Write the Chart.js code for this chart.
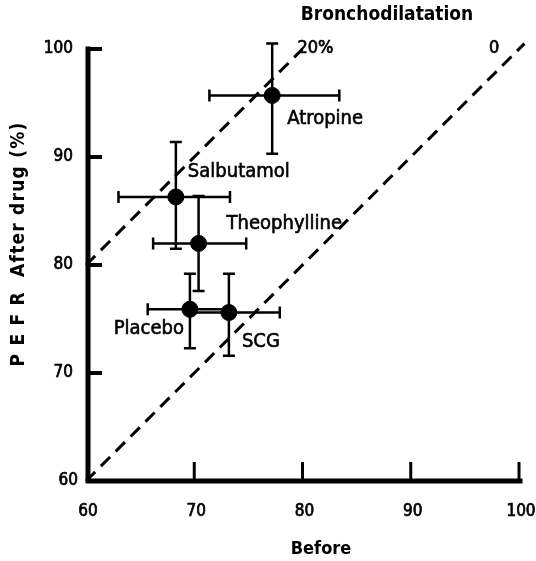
<!DOCTYPE html>
<html>
<head>
<meta charset="utf-8">
<script src="https://cdn.jsdelivr.net/npm/chart.js@4.4.0/dist/chart.umd.min.js"></script>
<style>
  html, body { margin: 0; padding: 0; background: #fff; }
  canvas { display: block; }
</style>
</head>
<body>
<canvas id="pefrChart" width="536" height="561"></canvas>
<script>
// PEFR before / after drug

const drugs = ['Atropine', 'Salbutamol', 'Theophylline', 'Placebo', 'SCG'];
const before = [77.2, 68.3, 70.4, 69.6, 73.2];
const after = [95.7, 86.3, 82.0, 75.9, 75.6];
const beforeLow = [71.4, 63.0, 66.2, 65.7, 69.6];
const beforeHigh = [83.4, 73.3, 74.8, 73.2, 77.9];
const afterLow = [90.3, 81.5, 77.6, 72.3, 71.6];
const afterHigh = [100.5, 91.4, 86.4, 79.2, 79.2];

const xTicks = [60, 70, 80, 90, 100];
const yTicks = [60, 70, 80, 90, 100];

// reference lines: no change, and 20% bronchodilatation
const lineZero = [{x: 60, y: 60}, {x: 100.5, y: 100.5}];
const line20 = [{x: 60, y: 80}, {x: 80, y: 100}];

const FONT = "'DejaVu Sans Condensed', 'Liberation Sans Narrow', sans-serif";

// where each drug name sits relative to its point (px)
const labelOffset = {
    'Atropine': [15, 23, 'left'],
    'Salbutamol': [12, -25, 'left'],
    'Theophylline': [28, -20, 'left'],
    'Placebo': [-6, 20, 'right'],
    'SCG': [13, 29, 'left']
};

function heavyText(ctx, txt, x, y) {
    ctx.fillText(txt, x, y);
    ctx.strokeText(txt, x, y);
}

const drawPlugin = {
    id: 'pefrDraw',
    beforeDatasetsDraw(chart) {
        const ctx = chart.ctx;
        const xs = chart.scales.x, ys = chart.scales.y;
        ctx.save();
        ctx.strokeStyle = '#000';
        ctx.lineWidth = 2.5;
        const cap = 6;
        for (let i = 0; i < drugs.length; i++) {
            const px = xs.getPixelForValue(before[i]);
            const py = ys.getPixelForValue(after[i]);
            const x0 = xs.getPixelForValue(beforeLow[i]);
            const x1 = xs.getPixelForValue(beforeHigh[i]);
            const y0 = ys.getPixelForValue(afterLow[i]);
            const y1 = ys.getPixelForValue(afterHigh[i]);
            ctx.beginPath();
            ctx.moveTo(x0, py); ctx.lineTo(x1, py);
            ctx.moveTo(x0, py - cap); ctx.lineTo(x0, py + cap);
            ctx.moveTo(x1, py - cap); ctx.lineTo(x1, py + cap);
            ctx.moveTo(px, y0); ctx.lineTo(px, y1);
            ctx.moveTo(px - cap, y0); ctx.lineTo(px + cap, y0);
            ctx.moveTo(px - cap, y1); ctx.lineTo(px + cap, y1);
            ctx.stroke();
        }
        ctx.restore();
    },
    afterDraw(chart) {
        const ctx = chart.ctx;
        const xs = chart.scales.x, ys = chart.scales.y;
        const left = xs.getPixelForValue(60) + 2;
        const bottom = ys.getPixelForValue(60);
        ctx.save();
        ctx.fillStyle = '#000';
        ctx.strokeStyle = '#000';

        // axis lines
        ctx.lineWidth = 5;
        ctx.lineCap = 'square';
        ctx.beginPath();
        ctx.moveTo(left, ys.getPixelForValue(100));
        ctx.lineTo(left, bottom);
        ctx.lineTo(xs.getPixelForValue(100) + 1, bottom);
        ctx.stroke();
        ctx.lineCap = 'butt';

        // ticks pointing inward
        ctx.lineWidth = 3;
        xTicks.slice(1).forEach(v => {
            const x = xs.getPixelForValue(v);
            ctx.beginPath(); ctx.moveTo(x, bottom); ctx.lineTo(x, bottom - 19); ctx.stroke();
        });
        ctx.lineWidth = 4;
        yTicks.slice(1).forEach(v => {
            const y = ys.getPixelForValue(v);
            ctx.beginPath(); ctx.moveTo(left, y); ctx.lineTo(left + 14, y); ctx.stroke();
        });

        // tick labels
        ctx.lineWidth = 0.7;
        ctx.font = '17px ' + FONT;
        ctx.textBaseline = 'middle';
        ctx.textAlign = 'center';
        xTicks.forEach(v => heavyText(ctx, String(v), xs.getPixelForValue(v) + 2, 512));
        ctx.textAlign = 'right';
        yTicks.forEach(v => heavyText(ctx, String(v), v === 60 ? 78 : 73, ys.getPixelForValue(v)));

        // axis titles
        ctx.font = 'bold 18px ' + FONT;
        ctx.textAlign = 'center';
        ctx.fillText('Before', 321, 549);
        ctx.save();
        ctx.translate(19, 244);
        ctx.rotate(-Math.PI / 2);
        ctx.font = 'bold 19px ' + FONT;
        ctx.letterSpacing = '1.2px';
        ctx.fillText('P E F R  After drug (%)', 0, 0);
        ctx.restore();

        // bronchodilatation annotations
        ctx.font = 'bold 19px ' + FONT;
        ctx.fillText('Bronchodilatation', 387, 15);
        ctx.font = '18px ' + FONT;
        ctx.textAlign = 'left';
        heavyText(ctx, '20%', xs.getPixelForValue(80) - 5, ys.getPixelForValue(100) - 1);
        heavyText(ctx, '0', xs.getPixelForValue(100) - 30, ys.getPixelForValue(100) - 1);

        // drug names
        ctx.lineWidth = 0.6;
        ctx.font = '20px ' + FONT;
        drugs.forEach((name, i) => {
            const o = labelOffset[name];
            ctx.textAlign = o[2];
            heavyText(ctx, name, xs.getPixelForValue(before[i]) + o[0], ys.getPixelForValue(after[i]) + o[1]);
        });
        ctx.restore();
    }
};

const dashed = {
    showLine: true,
    borderColor: '#000',
    borderWidth: 3,
    borderDash: [13, 8],
    pointRadius: 0,
    clip: false,
    order: 2
};

new Chart(document.getElementById('pefrChart'), {
    type: 'scatter',
    data: {
        datasets: [
            Object.assign({ label: 'no change', data: lineZero }, dashed),
            Object.assign({ label: '20%', data: line20 }, dashed),
            {
                label: 'drugs',
                data: drugs.map((d, i) => ({ x: before[i], y: after[i] })),
                pointRadius: 8,
                pointBackgroundColor: '#000',
                pointBorderColor: '#000',
                order: 1
            }
        ]
    },
    options: {
        responsive: false,
        animation: false,
        layout: {
            padding: { left: 86, right: 17, top: 49, bottom: 80 }
        },
        scales: {
            x: { type: 'linear', min: 60, max: 100, display: false },
            y: { type: 'linear', min: 60, max: 100, display: false }
        },
        plugins: {
            legend: { display: false },
            tooltip: { enabled: false }
        }
    },
    plugins: [drawPlugin]
});
</script>
</body>
</html>
